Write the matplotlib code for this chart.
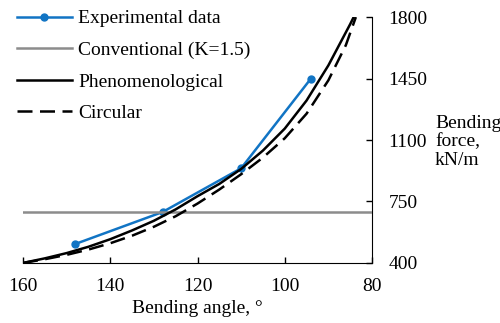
import matplotlib
matplotlib.use("Agg")
import matplotlib.pyplot as plt

plt.rcParams['font.family'] = ['Liberation Serif', 'DejaVu Serif']
plt.rcParams['font.size'] = 14

# experimental points (bending angle, deg -> bending force, kN/m)
exp_angle = [148, 128, 110, 94]
exp_force = [508, 690, 939, 1450]

# conventional method, K = 1.5 (constant)
conv_force = 692

# phenomenological model
phen_angle = [160, 155, 150, 145, 140, 135, 130, 125, 120, 115, 110, 105, 100, 95, 90, 85, 84.2]
phen_force = [400, 426, 456, 492, 535, 585, 640, 705, 780, 850, 935, 1040, 1165, 1325, 1525, 1760, 1800]

# circular model
circ_angle = [160, 155, 150, 145, 140, 135, 130, 125, 120, 115, 110, 105, 100, 95, 90, 86, 83.7]
circ_force = [400, 421, 446, 476, 512, 555, 606, 666, 738, 818, 905, 1000, 1110, 1250, 1440, 1640, 1800]

x_ticks = [160, 140, 120, 100, 80]
y_ticks = [400, 750, 1100, 1450, 1800]

fig = plt.figure(figsize=(5.0, 3.23), dpi=100)
ax = fig.add_axes([0.046, 0.186, 0.698, 0.761])

blue = '#1174C4'
ax.plot(exp_angle, exp_force, color=blue, lw=1.8, marker='o', ms=5,
        label='Experimental data', zorder=2)
ax.axhline(conv_force, color='#8c8c8c', lw=1.8, label='Conventional (K=1.5)', zorder=3)
ax.plot(phen_angle, phen_force, color='black', lw=1.8, label='Phenomenological', zorder=4)
ax.plot(circ_angle, circ_force, color='black', lw=1.8, ls=(0, (6, 3)),
        label='Circular', zorder=4)

ax.set_xlim(160, 80)
ax.set_ylim(400, 1800)
ax.set_xticks(x_ticks)
ax.set_yticks(y_ticks)

ax.spines['top'].set_visible(False)
ax.spines['left'].set_visible(False)
ax.yaxis.tick_right()
ax.tick_params(axis='x', direction='in', length=4, width=1, pad=11)
ax.tick_params(axis='y', direction='in', length=4, width=1, pad=12)
for lab in ax.get_yticklabels():
    lab.set_horizontalalignment('left')
ax.set_xlabel('Bending angle, °', labelpad=3.5)

fig.text(435 / 500, 1 - 142 / 323, 'Bending\nforce,\nkN/m', ha='left', va='center',
         linespacing=1.1)

fig.legend(loc='upper left', bbox_to_anchor=(0.018, 0.994), frameon=False,
           handlelength=2.85, handletextpad=0.3, labelspacing=0.72,
           borderaxespad=0.3, borderpad=0.1)

fig.savefig('out.png', dpi=100)
